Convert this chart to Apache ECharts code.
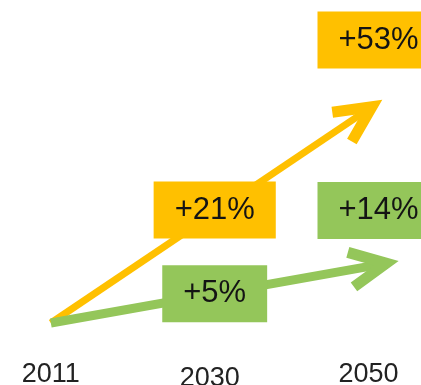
<!DOCTYPE html>
<html>
<head>
<meta charset="utf-8">
<script src="https://cdn.jsdelivr.net/npm/echarts@6/dist/echarts.min.js"></script>
<style>
  html, body { margin: 0; padding: 0; background: #ffffff; }
  #chart { width: 421px; height: 385px; }
</style>
</head>
<body>
<div id="chart"></div>
<script>
// Growth relative to 2011, in percent
const years = ['2011', '2030', '2050'];
const highGrowth = [0, 21, 53];
const lowGrowth = [0, 5, 14];

const FONT = '"Liberation Sans", Arial, sans-serif';

// Drawing style for each trend arrow and its value boxes
const trends = [
  { id: 'high', values: highGrowth, color: '#FFC000', shaft: 7, head: 11, ext: 4,
    midOffset: [5, -6], endOffset: [10, -69] },
  { id: 'low', values: lowGrowth, color: '#94C65A', shaft: 9, head: 11, ext: 18,
    midOffset: [5, -1], endOffset: [10, -56] }
];

const ARM_LEN = 40;
const ARM_ANGLE = 26 * Math.PI / 180;

// Straight arrow from the first year's value to the last year's value
function arrowRenderer(t) {
  return function (params, api) {
    const p0 = api.coord([api.value(0), api.value(1)]);
    const p1 = api.coord([api.value(2), api.value(3)]);
    let dx = p1[0] - p0[0], dy = p1[1] - p0[1];
    const len = Math.hypot(dx, dy);
    dx /= len; dy /= len;
    const tip = [p1[0] + dx * t.ext, p1[1] + dy * t.ext];
    const arm = (a) => {
      const c = Math.cos(a), s = Math.sin(a);
      const bx = -dx, by = -dy;
      return [tip[0] + (bx * c - by * s) * ARM_LEN, tip[1] + (bx * s + by * c) * ARM_LEN];
    };
    return {
      type: 'group',
      children: [
        { type: 'line',
          shape: { x1: p0[0], y1: p0[1], x2: tip[0], y2: tip[1] },
          style: { stroke: t.color, lineWidth: t.shaft, lineCap: 'butt' } },
        { type: 'polyline',
          shape: { points: [arm(ARM_ANGLE), tip, arm(-ARM_ANGLE)] },
          style: { stroke: t.color, fill: null, lineWidth: t.head, lineJoin: 'miter', lineCap: 'butt' } }
      ]
    };
  };
}

// Value box placed on the arrow at each later year
function boxRenderer(t) {
  const last = t.values.length - 1;
  return function (params, api) {
    const idx = api.value(0);
    const p = api.coord([idx, api.value(1)]);
    const off = idx === last ? t.endOffset : t.midOffset;
    const v = api.value(2);
    return {
      type: 'text',
      x: p[0] + off[0],
      y: p[1] + off[1],
      style: {
        text: '+' + v + '%',
        fill: '#141414',
        font: '31px ' + FONT,
        align: 'center',
        verticalAlign: 'middle',
        textAlign: 'center',
        textVerticalAlign: 'middle',
        backgroundColor: t.color,
        padding: [13, 21, 13, 21],
        lineHeight: 31
      }
    };
  };
}

const series = [];
trends.forEach((t) => {
  const last = t.values.length - 1;
  series.push({
    type: 'custom',
    name: t.id + '-arrow',
    renderItem: arrowRenderer(t),
    data: [[0, t.values[0], last, t.values[last]]],
    silent: true
  });
});
trends.forEach((t) => {
  const last = t.values.length - 1;
  const start = t.values[0], end = t.values[last];
  const boxes = [];
  for (let i = 1; i <= last; i++) {
    // height of the straight arrow above this year
    boxes.push([i, start + (end - start) * i / last, t.values[i]]);
  }
  series.push({
    type: 'custom',
    name: t.id + '-boxes',
    renderItem: boxRenderer(t),
    data: boxes,
    silent: true
  });
});

const chart = echarts.init(document.getElementById('chart'), null, { renderer: 'canvas' });
chart.setOption({
  animation: false,
  backgroundColor: '#ffffff',
  grid: { left: 0, right: 0, top: 0, bottom: 62, containLabel: false, outerBoundsMode: 'none' },
  xAxis: {
    type: 'value',
    min: -0.32,
    max: 2.33,
    axisLine: { show: false },
    axisTick: { show: false },
    splitLine: { show: false },
    axisLabel: {
      customValues: years.map((y, i) => i),
      formatter: (v) => {
        const y = years[Math.round(v)] || '';
        return Math.round(v) === 1 ? '{mid|' + y + '}' : y;
      },
      rich: {
        mid: { fontSize: 27, fontFamily: FONT, color: '#222222', padding: [4, 0, 0, 0] }
      },
      margin: 38,
      color: '#222222',
      fontSize: 27,
      fontFamily: FONT
    }
  },
  yAxis: {
    type: 'value',
    min: 0,
    max: 80,
    show: false
  },
  series: series
});
</script>
</body>
</html>
